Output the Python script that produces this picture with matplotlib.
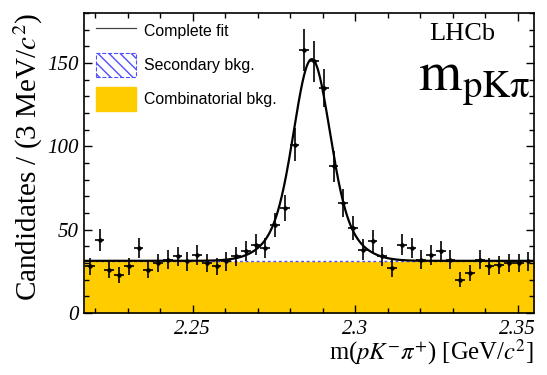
import numpy as np
import matplotlib
matplotlib.use("Agg")
import matplotlib.pyplot as plt
from matplotlib.lines import Line2D
from matplotlib.patches import Patch
from matplotlib.ticker import MultipleLocator

# ---------------- data ----------------
bin_width = 0.003  # GeV
first_center = 2.2183
counts = [28, 44, 26, 23, 28, 39, 26, 30, 32, 34, 31, 35, 30, 28, 31, 34, 37, 41,
          39, 53, 63, 101, 158, 151, 135, 88, 66, 51, 38, 43, 34, 27, 41, 39, 32,
          35, 37, 32, 20, 24, 32, 28, 29, 30, 30, 31]
centers = first_center + bin_width * np.arange(len(counts))

# fit model parameters
comb_level = 31.0          # combinatorial background per bin
sec_level = 0.3            # secondary background per bin
sig_mean = 2.2866
sig_amp_core = 88.0
sig_sigma_core = 0.0052
sig_amp_wide = 33.0
sig_sigma_wide = 0.0095

xlim = (2.2165, 2.355)
ylim = (0, 180)

# ---------------- style ----------------
plt.rcParams['mathtext.fontset'] = 'stix'
plt.rcParams['hatch.color'] = '#5050ff'
serif = ['Liberation Serif', 'DejaVu Serif']
sans = ['Liberation Sans', 'DejaVu Sans']

fig = plt.figure(figsize=(5.47, 3.75), dpi=100)
ax = fig.add_axes([84/547, 1-313/375, 450/547, 300/375])

x = np.linspace(xlim[0], xlim[1], 800)
comb = np.full_like(x, comb_level)
sec = comb + sec_level
sig = (sig_amp_core*np.exp(-0.5*((x-sig_mean)/sig_sigma_core)**2)
       + sig_amp_wide*np.exp(-0.5*((x-sig_mean)/sig_sigma_wide)**2))
total = sec + sig

gold = '#FFCC00'
ax.fill_between(x, 0, comb, color=gold, lw=0, zorder=1)
ax.plot(x, sec, color='#5050ff', lw=1.0, ls=(0, (2, 2)), zorder=2)
ax.plot(x, total, color='black', lw=1.6, zorder=3)

yerr = np.sqrt(np.array(counts, dtype=float))
ax.errorbar(centers, counts, xerr=bin_width/2, yerr=yerr, fmt='o', ms=2.2,
            color='black', ecolor='black', elinewidth=1.2, capsize=0, zorder=4)

ax.set_xlim(*xlim)
ax.set_ylim(*ylim)
ax.xaxis.set_major_locator(MultipleLocator(0.05))
ax.xaxis.set_minor_locator(MultipleLocator(0.01))
ax.yaxis.set_major_locator(MultipleLocator(50))
ax.yaxis.set_minor_locator(MultipleLocator(10))
ax.set_xticks([2.25, 2.3, 2.35])
ax.set_xticklabels(['2.25', '2.3', '2.35'])
ax.tick_params(which='both', direction='in', top=True, right=True, width=1.0)
ax.tick_params(which='major', length=6)
ax.tick_params(which='minor', length=3.5)
ax.tick_params(axis='x', which='major', pad=5)
for lab in ax.get_xticklabels() + ax.get_yticklabels():
    lab.set_fontfamily(serif)
    lab.set_fontstyle('italic')
    lab.set_fontsize(15)
for s in ax.spines.values():
    s.set_linewidth(1.2)

ax.set_xlabel(r'm($pK^{-}\pi^{+}$) [GeV/$c^{2}$]', fontsize=17.7, family=serif,
              loc='right', labelpad=-1)
ax.set_ylabel(r'Candidates / (3 MeV/$c^{2}$)', fontsize=21, family=serif,
              loc='top', labelpad=2)

ax.text(0.84, 0.93, 'LHCb', transform=ax.transAxes, fontsize=19, family=serif,
        ha='center', va='center')
ax.text(0.992, 0.77, r'$\mathrm{m}_{\mathrm{pK}\mathrm{\pi}}$', transform=ax.transAxes,
        fontsize=40, family=serif, ha='right', va='center')

handles = [Line2D([], [], color='#444444', lw=0.9),
           Patch(facecolor='white', edgecolor='#5050ff', hatch='\\\\\\', ls='--', lw=0.8),
           Patch(facecolor=gold, edgecolor=gold)]
labels = ['Complete fit', 'Secondary bkg.', 'Combinatorial bkg.']
leg = ax.legend(handles, labels, loc='upper left', bbox_to_anchor=(12/450, 1-6/300),
                frameon=False, borderaxespad=0, borderpad=0, handlelength=2.5,
                handleheight=1.98, labelspacing=0.62, handletextpad=0.55,
                prop={'family': sans, 'size': 11.4})

fig.savefig('out.png', dpi=100)
